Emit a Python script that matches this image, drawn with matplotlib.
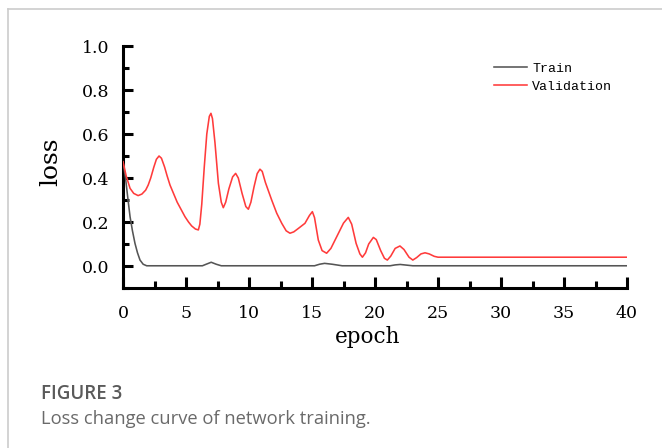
import matplotlib
matplotlib.use("Agg")
import matplotlib.pyplot as plt
from matplotlib.ticker import MultipleLocator
from matplotlib.lines import Line2D

# ---- data ----
val_epoch = [0, 0.25, 0.56, 0.85, 1.2, 1.5, 1.8, 2.0, 2.2, 2.45, 2.65, 2.86, 3.05, 3.3,
             3.5, 3.73, 4.3, 4.92, 5.2, 5.45, 5.75, 5.98, 6.1, 6.25, 6.45, 6.65,
             6.85, 6.98, 7.1, 7.3, 7.57, 7.8, 7.96, 8.15, 8.4, 8.7, 8.94, 9.15,
             9.45, 9.75, 9.95, 10.15, 10.4, 10.65, 10.87, 11.05, 11.3, 11.8, 12.2,
             12.6, 12.95, 13.25, 13.55, 13.9, 14.44, 14.8, 15.03, 15.2, 15.5, 15.8,
             16.16, 16.5, 17.1, 17.5, 17.88, 18.15, 18.5, 18.8, 19.0, 19.25, 19.5,
             19.87, 20.1, 20.45, 20.75, 20.98, 21.25, 21.6, 21.98, 22.3, 22.7, 23.0,
             23.3, 23.65, 23.97, 24.3, 24.7, 25.0, 30, 35, 40]
val_loss = [0.474, 0.41, 0.353, 0.33, 0.32, 0.327, 0.345, 0.368, 0.40, 0.45, 0.485, 0.50,
            0.49, 0.45, 0.41, 0.368, 0.29, 0.224, 0.20, 0.182, 0.168, 0.164, 0.19, 0.28,
            0.45, 0.60, 0.68, 0.694, 0.67, 0.56, 0.376, 0.29, 0.265, 0.29, 0.35, 0.405,
            0.421, 0.40, 0.33, 0.27, 0.258, 0.29, 0.36, 0.42, 0.44, 0.43, 0.38, 0.30,
            0.24, 0.194, 0.16, 0.149, 0.155, 0.17, 0.194, 0.23, 0.247, 0.22, 0.118,
            0.07, 0.058, 0.08, 0.149, 0.195, 0.221, 0.19, 0.103, 0.055, 0.04, 0.06,
            0.10, 0.13, 0.12, 0.07, 0.035, 0.027, 0.045, 0.08, 0.091, 0.075, 0.04,
            0.027, 0.038, 0.055, 0.06, 0.055, 0.044, 0.04, 0.04, 0.04, 0.04]

train_epoch = [0, 0.2, 0.4, 0.56, 0.75, 0.95, 1.15, 1.35, 1.6, 1.88, 6.3, 6.6, 7.0,
               7.4, 7.8, 15.2, 15.6, 16.0, 16.6, 17.4, 21.2, 21.6, 22.0, 22.5, 23.0,
               30, 40]
train_loss = [0.474, 0.40, 0.30, 0.224, 0.16, 0.103, 0.06, 0.027, 0.008, 0.001, 0.001,
              0.008, 0.017, 0.008, 0.001, 0.001, 0.008, 0.012, 0.008, 0.001, 0.001,
              0.005, 0.007, 0.004, 0.001, 0.001, 0.001]

x_ticks = [0, 5, 10, 15, 20, 25, 30, 35, 40]
y_ticks = [0.0, 0.2, 0.4, 0.6, 0.8, 1.0]

W, H = 662, 448
fig = plt.figure(figsize=(W / 100, H / 100), dpi=100)
fig.patch.set_facecolor("white")

# page frame (top and left light gray lines)
fig.add_artist(Line2D([7.5 / W, 1], [1 - 9.5 / H, 1 - 9.5 / H], color="#cccccc", lw=1.2))
fig.add_artist(Line2D([7.5 / W, 7.5 / W], [0, 1 - 9.5 / H], color="#cccccc", lw=1.2))

ax = fig.add_axes([123 / W, 1 - 288 / H, (627 - 123) / W, (288 - 46) / H])
ax.plot(train_epoch, train_loss, color="#555555", lw=1.15, label="Train", zorder=3,
        solid_joinstyle="round")
ax.plot(val_epoch, val_loss, color="#ff3b3b", lw=1.15, label="Validation", zorder=4,
        solid_joinstyle="round")

ax.set_xlim(0, 40)
ax.set_ylim(-0.1, 1.0)
ax.set_xticks(x_ticks)
ax.set_yticks(y_ticks)
ax.xaxis.set_minor_locator(MultipleLocator(2.5))
ax.yaxis.set_minor_locator(MultipleLocator(0.1))
ax.set_yticklabels([f"{v:.1f}" for v in y_ticks])

for s in ["top", "right"]:
    ax.spines[s].set_visible(False)
for s in ["left", "bottom"]:
    ax.spines[s].set_linewidth(2.2)

serif = ["DejaVu Serif"]
ax.tick_params(axis="both", which="major", direction="in", width=2.2, labelsize=12.5)
ax.tick_params(axis="y", which="major", length=7, pad=9.6)
ax.tick_params(axis="x", which="major", length=8, pad=12)
ax.tick_params(axis="y", which="minor", direction="in", width=2.2, length=4)
ax.tick_params(axis="x", which="minor", direction="in", width=2.2, length=5)
for lab in ax.get_xticklabels() + ax.get_yticklabels():
    lab.set_family(serif)

ax.set_xlabel("epoch", family=serif, fontsize=15.5)
ax.xaxis.set_label_coords((367.5 - 123) / 504, -(343 - 288) / 242, transform=None)
ax.xaxis.label.set_verticalalignment("baseline")
ax.set_ylabel("loss", family=serif, fontsize=18)
ax.yaxis.set_label_coords(-(123 - 51) / 504, (288 - 161.5) / 242)
ax.yaxis.label.set_verticalalignment("center")

ax.legend(loc="upper left", bbox_to_anchor=(494 / W, 1 - 62.5 / H),
          bbox_transform=fig.transFigure, frameon=False, borderpad=0,
          borderaxespad=0, handlelength=2.5, handletextpad=0.4,
          labelspacing=0.45, prop={"family": ["Liberation Mono"], "size": 9.5})

fig.text(41 / W, 1 - 399 / H, "FIGURE 3", family=["Open Sans"], fontsize=13.5,
         fontweight="semibold", color="#5a5a5a", va="baseline", ha="left")
fig.text(41 / W, 1 - 424.3 / H, "Loss change curve of network training.",
         family=["Open Sans"], fontsize=13.2, color="#6a6a6a", va="baseline", ha="left")

fig.savefig("out.png", dpi=100)
